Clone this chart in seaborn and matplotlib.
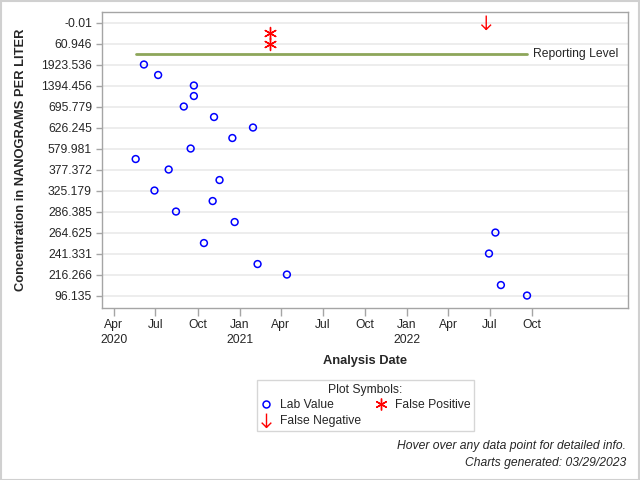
import pandas as pd
import matplotlib.pyplot as plt
from matplotlib.path import Path
from matplotlib.lines import Line2D
from matplotlib.patches import Rectangle
import seaborn as sns

# y axis is a discrete axis: every other level carries a label
y_tick_labels = ['-0.01', '60.946', '1923.536', '1394.456', '695.779', '626.245', '579.981',
                 '377.372', '325.179', '286.385', '264.625', '241.331', '216.266', '96.135']

# lab values: analysis date and level position on the discrete y axis
lab_dates = ['2020-06-06', '2020-07-07', '2020-09-23', '2020-09-23', '2020-09-01', '2020-11-06',
             '2021-01-30', '2020-12-16', '2020-09-16', '2020-05-19', '2020-07-30', '2020-11-18',
             '2020-06-29', '2020-11-03', '2020-08-15', '2020-12-21', '2022-07-13', '2020-10-15',
             '2022-06-29', '2021-02-09', '2021-04-14', '2022-07-25', '2022-09-20']
lab_pos = [2, 2.5, 3, 3.5, 4, 4.5, 5, 5.5, 6, 6.5, 7, 7.5, 8, 8.5, 9, 9.5, 10, 10.5,
           11, 11.5, 12, 12.5, 13]

fp_dates = ['2021-03-09', '2021-03-09']
fp_pos = [0.5, 1.0]

fn_dates = ['2022-06-23']
fn_pos = [0.0]

reporting_pos = 1.5

x_tick_dates = ['2020-04-01', '2020-07-01', '2020-10-01', '2021-01-01', '2021-04-01', '2021-07-01',
                '2021-10-01', '2022-01-01', '2022-04-01', '2022-07-01', '2022-10-01']
x_tick_labels = ['Apr\n2020', 'Jul', 'Oct', 'Jan\n2021', 'Apr', 'Jul', 'Oct', 'Jan\n2022',
                 'Apr', 'Jul', 'Oct']

lab = pd.DataFrame({'date': pd.to_datetime(lab_dates), 'pos': lab_pos})
fp = pd.DataFrame({'date': pd.to_datetime(fp_dates), 'pos': fp_pos})
fn = pd.DataFrame({'date': pd.to_datetime(fn_dates), 'pos': fn_pos})

sns.set_style('white')
plt.rcParams['font.family'] = ['Liberation Sans', 'DejaVu Sans']

fig = plt.figure(figsize=(6.4, 4.8), dpi=100)
ax = fig.add_axes([0.159, 0.358, 0.822, 0.617])

# down arrow marker for false negatives
arrow = Path([(0, 0.65), (0, -0.65), (-0.45, -0.2), (0, -0.65), (0.45, -0.2)],
             [Path.MOVETO, Path.LINETO, Path.MOVETO, Path.LINETO, Path.LINETO])
asterisk = (6, 2, 0)

# reporting level spans first to last sample
all_dates = pd.concat([lab['date'], fp['date'], fn['date']])
ax.plot([all_dates.min(), all_dates.max()], [reporting_pos, reporting_pos],
        color='#8da65a', lw=2, zorder=2)
ax.annotate('Reporting Level', xy=(all_dates.max(), reporting_pos), xytext=(4, 0),
            textcoords='offset points', va='center', ha='left', fontsize=8.7)

sns.scatterplot(data=lab, x='date', y='pos', ax=ax, marker='o', s=24,
                facecolor='none', edgecolor='#0000ff', linewidth=1.1, zorder=3)
sns.scatterplot(data=fp, x='date', y='pos', ax=ax, marker=asterisk, s=75,
                color='#ff0000', linewidth=1.0, zorder=3)
sns.scatterplot(data=fn, x='date', y='pos', ax=ax, marker=arrow, s=100,
                facecolor='none', edgecolor='#ff0000', linewidth=1.0, zorder=3)

ax.set_ylim(13.6, -0.5)
ax.set_yticks(range(len(y_tick_labels)))
ax.set_yticklabels(y_tick_labels, fontsize=8.7)
ax.set_xlim(pd.Timestamp('2020-03-06'), pd.Timestamp('2023-04-28'))
ax.set_xticks(pd.to_datetime(x_tick_dates))
ax.set_xticklabels(x_tick_labels, fontsize=8.7, linespacing=1.25)

ax.grid(axis='y', color='#ececec', lw=1.3)
ax.set_axisbelow(True)
for s in ax.spines.values():
    s.set_color('#a5a5a5')
    s.set_linewidth(1)
ax.tick_params(axis='both', which='major', length=4, width=1, color='#a5a5a5',
               left=True, bottom=True, pad=3)
ax.tick_params(axis='x', length=6, pad=2)

ax.set_xlabel('Analysis Date', fontsize=9.3, fontweight='bold', labelpad=7)
ax.set_ylabel('Concentration in NANOGRAMS PER LITER', fontsize=9.3, fontweight='bold', labelpad=10)

handles = [
    Line2D([], [], ls='none', marker='o', mfc='none', mec='#0000ff', ms=5, mew=1.1),
    Line2D([], [], ls='none', marker=arrow, mfc='none', mec='#ff0000', ms=10, mew=1.0),
    Line2D([], [], ls='none', marker=asterisk, color='#ff0000', ms=8.5, mew=1.0),
]
leg = fig.legend(handles, ['Lab Value', 'False Negative', 'False Positive'],
                 title='Plot Symbols:', ncol=2, loc='upper left',
                 bbox_to_anchor=(0.401, 0.2083), borderaxespad=0, fontsize=8.7,
                 title_fontsize=8.7, frameon=True, fancybox=False, handlelength=1.0,
                 handletextpad=0.6, columnspacing=1.2, labelspacing=0.3, borderpad=0.3)
leg.get_frame().set_edgecolor('#cccccc')
leg.get_frame().set_linewidth(1)

fig.text(0.978, 0.071, 'Hover over any data point for detailed info.', ha='right', va='center',
         fontsize=8.7, style='italic')
fig.text(0.978, 0.036, 'Charts generated: 03/29/2023', ha='right', va='center',
         fontsize=8.7, style='italic')

fig.add_artist(Rectangle((0.001, 0.001), 0.997, 0.997, transform=fig.transFigure,
                         fill=False, edgecolor='#d0d0d0', lw=1.5))

fig.savefig('out.png', dpi=100)
